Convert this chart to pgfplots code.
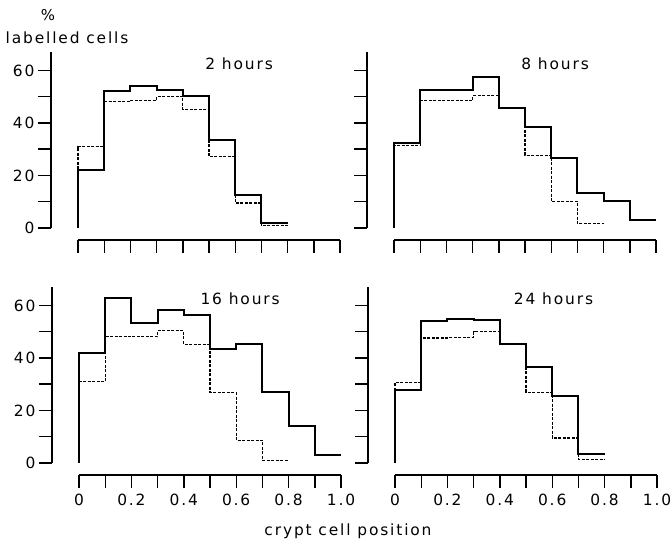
\documentclass[border=0pt]{standalone}
\usepackage{fontspec}
\setmainfont[LetterSpace=12]{DejaVu Sans}
\usepackage{pgfplots}
\pgfplotsset{compat=1.18}

\pgfplotsset{
  panel/.style={
    scale only axis, width=262bp, height=176bp,
    xmin=0, xmax=1, ymin=0, ymax=67,
    axis x line*=bottom, axis y line*=left,
    axis line style={-, line width=1.8bp},
    x axis line style={yshift=-12bp},
    xtick style={yshift=-12bp, line width=1.4bp, black},
    xticklabel style={yshift=-15bp},
    y axis line style={xshift=-27bp},
    ytick style={xshift=-27bp, line width=1.4bp, black},
    yticklabel style={xshift=-27bp},
    tick align=outside, major tick length=13bp,
    xtick={0,0.1,0.2,0.3,0.4,0.5,0.6,0.7,0.8,0.9,1},
    ytick={0,10,20,30,40,50,60},
    xticklabels={}, yticklabels={},
    clip=false, anchor=south west,
    font=\fontsize{15.5}{18}\selectfont,
    const plot,
  },
  solidstep/.style={black, line width=2bp, no marks},
  dashstep/.style={black, line width=1.1bp, dash pattern=on 3bp off 1.5bp, no marks},
}

\begin{document}
\begin{tikzpicture}
\useasboundingbox (0bp,0bp) rectangle (670bp,546bp);
\tikzset{every node/.style={font=\fontsize{15.5}{18}\selectfont}}

% 2 hours
\begin{axis}[panel, at={(78bp,318bp)}, yticklabels={0,,20,,40,,60}]
  \addplot[dashstep] coordinates {(0,0) (0,31) (0.1,48.3) (0.2,48.6) (0.3,50.1) (0.4,45.1) (0.5,27.1) (0.6,9.5) (0.7,1) (0.8,1)};
  \addplot[solidstep] coordinates {(0,0) (0,22) (0.1,52) (0.2,54) (0.3,52.4) (0.4,50.2) (0.5,33.5) (0.6,12.4) (0.7,2) (0.8,2)};
  \node at (axis cs:0.615,62.5) {2 hours};
\end{axis}

% 8 hours
\begin{axis}[panel, at={(394bp,318bp)}]
  \addplot[dashstep] coordinates {(0,0) (0,31.4) (0.1,48.4) (0.2,48.4) (0.3,50.3) (0.4,45.7) (0.5,27.7) (0.6,10.1) (0.7,1.6) (0.8,1.6)};
  \addplot[solidstep] coordinates {(0,0) (0,32.3) (0.1,52.5) (0.2,52.5) (0.3,57.5) (0.4,45.7) (0.5,38.6) (0.6,26.8) (0.7,13.2) (0.8,10.1) (0.9,3.1) (1,3.1)};
  \node at (axis cs:0.615,62.5) {8 hours};
\end{axis}

% 16 hours
\begin{axis}[panel, at={(79bp,83bp)}, yticklabels={0,,20,,40,,60},
  xticklabels={0,,0.2,,0.4,,0.6,,0.8,,1.0}]
  \addplot[dashstep] coordinates {(0,0) (0,30.9) (0.1,48.1) (0.2,48) (0.3,50.3) (0.4,45.1) (0.5,26.9) (0.6,8.7) (0.7,1) (0.8,1)};
  \addplot[solidstep] coordinates {(0,0) (0,41.8) (0.1,62.8) (0.2,53.3) (0.3,58.3) (0.4,56.2) (0.5,43.3) (0.6,45.3) (0.7,26.9) (0.8,14.2) (0.9,3.2) (1,3.2)};
  \node at (axis cs:0.615,62.5) {16 hours};
\end{axis}

% 24 hours
\begin{axis}[panel, at={(395bp,83bp)},
  xticklabels={0,,0.2,,0.4,,0.6,,0.8,,1.0}]
  \addplot[dashstep] coordinates {(0,0) (0,30.5) (0.1,47.6) (0.2,47.8) (0.3,49.9) (0.4,45.2) (0.5,27) (0.6,9.5) (0.7,1.3) (0.8,1.3)};
  \addplot[solidstep] coordinates {(0,0) (0,27.9) (0.1,53.9) (0.2,55) (0.3,54.3) (0.4,45.2) (0.5,36.5) (0.6,25.4) (0.7,3.3) (0.8,3.3)};
  \node at (axis cs:0.605,62.5) {24 hours};
\end{axis}

\node at (48bp,531bp) {\fontsize{15}{16}\selectfont\%};
\node at (67bp,508bp) {labelled cells};
\node at (348bp,15bp) {crypt cell position};
\end{tikzpicture}
\end{document}
